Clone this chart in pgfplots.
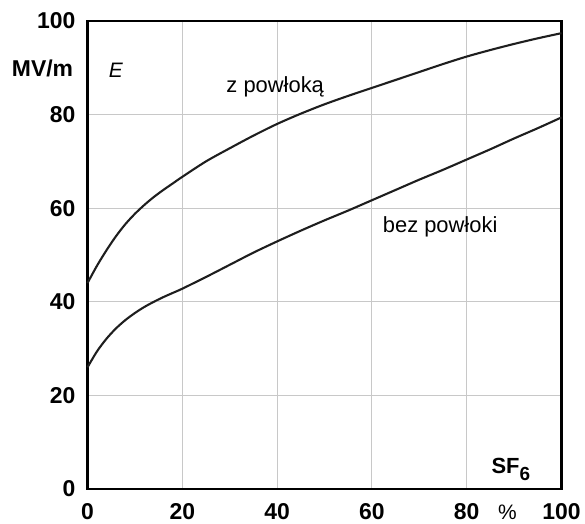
\documentclass[border=0pt]{standalone}
\usepackage{fontspec}
\setmainfont{Liberation Sans}
\usepackage{pgfplots}
\pgfplotsset{compat=1.18}
\definecolor{gridc}{HTML}{C8C8C8}
\definecolor{curve}{HTML}{1E1E1E}

\begin{document}
\begin{tikzpicture}[x=1bp,y=1bp]
\begin{axis}[
  name=main, scale only axis, width=474bp, height=468bp,
  xmin=0, xmax=100, ymin=0, ymax=100,
  xtick={0,20,40,60,80,100}, ytick={0,20,40,60,80,100},
  grid=major, grid style={gridc, line width=1.2pt},
  axis line style={black, line width=2.8pt},
  major tick length=0pt,
  tick label style={font=\fontsize{23}{25}\selectfont\bfseries},
  /pgf/number format/assume math mode=true,
  xticklabel style={anchor=base, yshift=-31bp},
  yticklabel style={anchor=east, inner sep=0pt, xshift=-12bp},
  clip=false]
  % z powloka
  \addplot[curve, line width=2.1pt, smooth] coordinates {
    (0,44) (2,47.7) (4,51) (6,54) (8,56.6) (10,58.8) (12,60.7) (14,62.4)
    (16,63.9) (18,65.3) (20,66.7) (25,70) (30,72.8) (35,75.5) (40,78)
    (45,80.2) (50,82.2) (55,84) (60,85.7) (65,87.4) (70,89.1) (75,90.8)
    (80,92.4) (85,93.8) (90,95.1) (95,96.3) (100,97.4)};
  % bez powloki
  \addplot[curve, line width=2.1pt, smooth] coordinates {
    (0,26) (2,29.4) (4,32.1) (6,34.3) (8,36.1) (10,37.6) (12,38.9) (14,40)
    (16,41) (18,41.9) (20,42.8) (25,45.3) (30,47.9) (35,50.5) (40,52.9)
    (45,55.2) (50,57.4) (55,59.5) (60,61.7) (65,63.9) (70,66.1) (75,68.2)
    (80,70.4) (85,72.6) (90,74.9) (95,77.1) (100,79.4)};
  \node[font=\fontsize{21}{23}\selectfont\itshape] at (axis cs:6,89.5) {E};
  \node[font=\fontsize{23}{25}\selectfont\bfseries, anchor=east, inner sep=0pt] at (axis cs:-3,89.9) {MV/m};
  \node[font=\fontsize{22}{24}\selectfont, anchor=base, inner sep=0pt] at (axis cs:39.6,84.8) {z powłoką};
  \node[font=\fontsize{22}{24}\selectfont, anchor=base, inner sep=0pt] at (axis cs:74.4,54.8) {bez powłoki};
  \node[font=\fontsize{22}{24}\selectfont\bfseries, anchor=base, inner sep=0pt] at (axis cs:89.3,3.3) {SF\raisebox{-7bp}{\fontsize{19}{19}\selectfont 6}};
  \node[font=\fontsize{21}{23}\selectfont] at (axis cs:88.6,-5) {\%};
\end{axis}
\path (main.south west) ++(-87.5bp,-34bp) rectangle ++(585bp,523bp);
\end{tikzpicture}
\end{document}
